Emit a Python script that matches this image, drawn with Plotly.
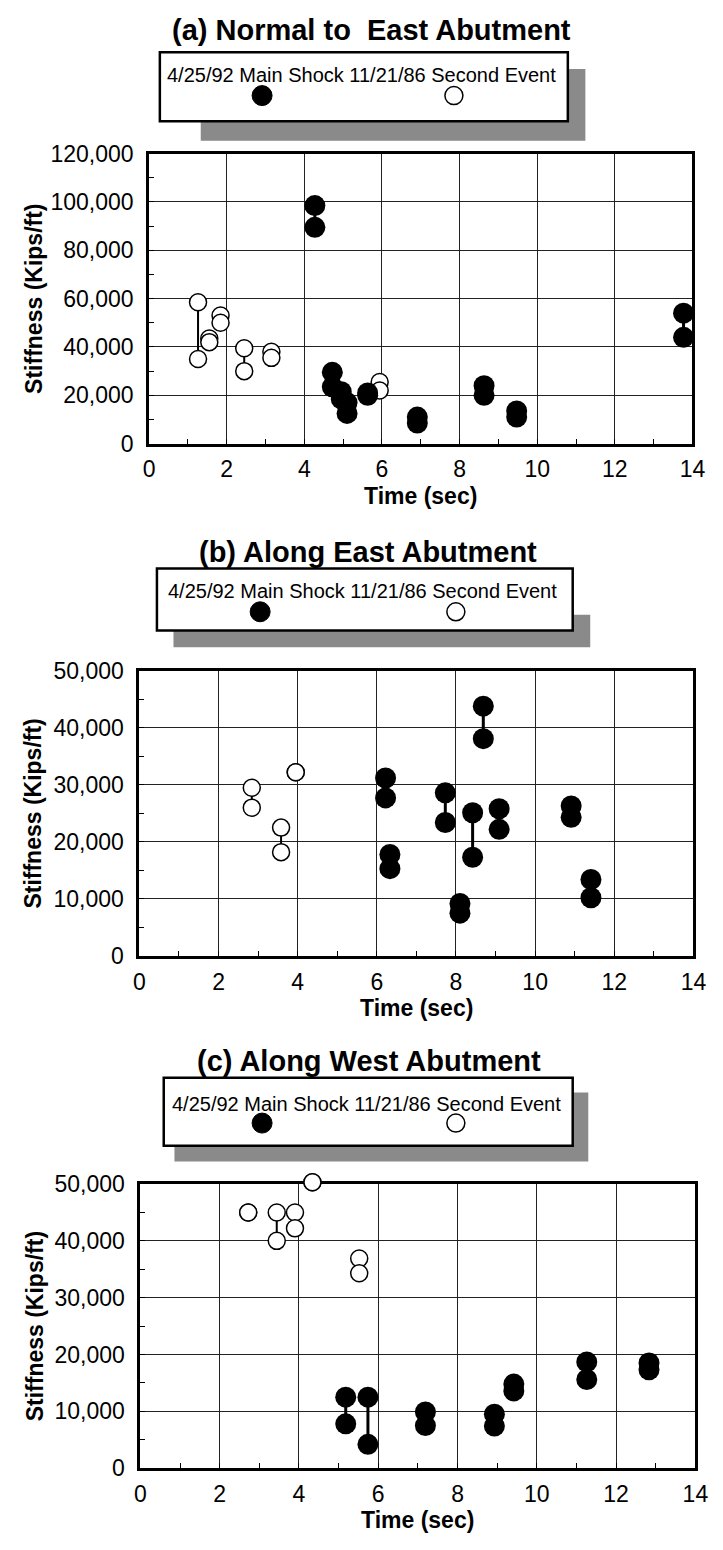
import plotly.graph_objects as go

W, H = 723, 1550

# ---------------- data ----------------
x_ticks = [0, 2, 4, 6, 8, 10, 12, 14]

# (a) Normal to East Abutment
a_main_t = [4.27, 4.72, 4.95, 5.10, 5.63, 6.91, 8.63, 9.47, 13.77]
a_main_hi = [98500, 29500, 21500, 17000, 21000, 11000, 24000, 13500, 54000]
a_main_lo = [89500, 23500, 18500, 12500, 20000, 8500, 20000, 11000, 44000]
a_sec_t = [1.26, 1.55, 1.84, 2.45, 3.15, 5.94]
a_sec_hi = [58500, 43500, 53000, 39500, 38000, 25500]
a_sec_lo = [35000, 42000, 50000, 30000, 35500, 22000]

# (b) Along East Abutment
b_main_t = [6.22, 6.33, 7.73, 8.10, 8.42, 8.69, 9.09, 10.91, 11.41]
b_main_hi = [31200, 17800, 28600, 9200, 25100, 43800, 25800, 26300, 13400]
b_main_lo = [27700, 15300, 23400, 7500, 17300, 38100, 22200, 24300, 10200]
b_sec_t = [2.84, 3.58, 3.95]
b_sec_hi = [29500, 22500, 32200]
b_sec_lo = [26000, 18200, 32200]

# (c) Along West Abutment
c_main_t = [5.18, 5.74, 7.19, 8.93, 9.42, 11.26, 12.83]
c_main_hi = [12500, 12500, 9900, 9500, 14800, 18700, 18500]
c_main_lo = [7800, 4200, 7500, 7400, 13600, 15600, 17300]
c_sec_t = [2.72, 3.44, 3.90, 4.34, 5.52]
c_sec_hi = [45000, 45000, 45000, 50300, 36900]
c_sec_lo = [45000, 40000, 42200, 50300, 34300]

titles = ["(a) Normal to\u00a0 East Abutment", "(b) Along East Abutment", "(c) Along West Abutment"]
legend_text = "4/25/92 Main Shock 11/21/86 Second Event"
x_title = "Time (sec)"
y_title = "Stiffness (Kips/ft)"
y_max = [120000, 50000, 50000]
y_dtick = [20000, 10000, 10000]

# ---------------- layout geometry (pixels) ----------------
panels = [
    dict(main=(a_main_t, a_main_hi, a_main_lo), sec=(a_sec_t, a_sec_hi, a_sec_lo),
         plot=(147, 143, 705, 438), title_xy=(375, 17), box=(158, 40, 577, 110),
         shadow=(200, 57, 595, 130), leg_y=(63, 84), leg_x=(263, 460),
         xt_y=491, yt_x=28),
    dict(main=(b_main_t, b_main_hi, b_main_lo), sec=(b_sec_t, b_sec_hi, b_sec_lo),
         plot=(137, 669, 706, 959), title_xy=(372, 548), box=(155, 565, 582, 628),
         shadow=(172, 612, 600, 645), leg_y=(588, 609), leg_x=(261, 462),
         xt_y=1012, yt_x=28),
    dict(main=(c_main_t, c_main_hi, c_main_lo), sec=(c_sec_t, c_sec_hi, c_sec_lo),
         plot=(138, 1191, 708, 1480), title_xy=(373, 1066), box=(162, 1083, 582, 1152),
         shadow=(173, 1098, 598, 1168), leg_y=(1110, 1129), leg_x=(263, 462),
         xt_y=1533, yt_x=30),
]

FONT = "Liberation Sans, Arial, Helvetica, sans-serif"
PAD = 25  # extra pixels of headroom on the (invisible) marker axes


def fx(p):
    return p / W


def fy(p):
    return 1 - p / H


fig = go.Figure()
shapes = []
annotations = []

for i, p in enumerate(panels):
    sfx = "" if i == 0 else str(i + 1)
    xa, ya = "x" + sfx, "y" + sfx
    on = str(4 + i)               # invisible twin axes carrying the marks
    ox, oy = "x" + on, "y" + on
    mt, mhi, mlo = p["main"]
    st, shi, slo = p["sec"]
    l, t_, r, b = p["plot"]

    # invisible placeholder so the framed, gridded subplot is drawn
    fig.add_trace(go.Scatter(x=[0], y=[0], mode="markers", xaxis=xa, yaxis=ya,
                             marker=dict(opacity=0), hoverinfo="skip", showlegend=False))

    # connecting lines for each pair
    for (t, hi, lo, w) in [(st, shi, slo, 2.0), (mt, mhi, mlo, 3.0)]:
        lx, ly = [], []
        for k in range(len(t)):
            lx += [t[k], t[k], None]
            ly += [hi[k], lo[k], None]
        fig.add_trace(go.Scatter(x=lx, y=ly, mode="lines", xaxis=ox, yaxis=oy,
                                 line=dict(color="black", width=w),
                                 hoverinfo="skip", cliponaxis=False))
    # second event (open circles)
    fig.add_trace(go.Scatter(x=st + st, y=shi + slo, mode="markers", xaxis=ox, yaxis=oy,
                             name="11/21/86 Second Event",
                             marker=dict(symbol="circle", size=17, color="white",
                                         line=dict(color="black", width=1.5)),
                             cliponaxis=False))
    # main shock (filled circles)
    fig.add_trace(go.Scatter(x=mt + mt, y=mhi + mlo, mode="markers", xaxis=ox, yaxis=oy,
                             name="4/25/92 Main Shock",
                             marker=dict(symbol="circle", size=21, color="black",
                                         line=dict(color="black", width=0)),
                             cliponaxis=False))

    common = dict(showline=True, linecolor="black", linewidth=3, mirror=True,
                  showgrid=True, gridcolor="#222222", gridwidth=1.2, zeroline=False,
                  ticks="inside", ticklen=5, tickcolor="black", tickwidth=1.2,
                  tickfont=dict(family=FONT, size=23, color="black"))
    unit = y_max[i] / (b - t_)
    fig.update_layout({
        "xaxis" + sfx: dict(domain=[fx(l), fx(r)], anchor=ya, range=[0, 14],
                            tickmode="array", tickvals=x_ticks,
                            ticktext=[str(v) for v in x_ticks],
                            minor=dict(dtick=1, tick0=0, ticks="inside", ticklen=5,
                                       tickcolor="black", tickwidth=1.2, showgrid=False),
                            ticklabelstandoff=3, **common),
        "yaxis" + sfx: dict(domain=[fy(b), fy(t_)], anchor=xa, range=[0, y_max[i]],
                            dtick=y_dtick[i], tick0=0, tickformat=",d",
                            minor=dict(dtick=y_dtick[i] / 2, tick0=0, ticks="inside",
                                       ticklen=5, tickcolor="black", tickwidth=1.2,
                                       showgrid=False),
                            ticklabelstandoff=8, **common),
        # invisible twin axes: same scale, extra headroom so marks on the frame show
        "xaxis" + on: dict(domain=[fx(l), fx(r)], anchor=oy, range=[0, 14],
                           visible=False, showgrid=False, zeroline=False),
        "yaxis" + on: dict(domain=[fy(b + PAD), fy(t_ - PAD)], anchor=ox,
                           range=[-PAD * unit, y_max[i] + PAD * unit],
                           visible=False, showgrid=False, zeroline=False),
    })

    # title
    tx, ty = p["title_xy"]
    annotations.append(dict(text="<b>" + titles[i] + "</b>", x=fx(tx), y=fy(ty),
                            xref="paper", yref="paper", xanchor="center", yanchor="middle",
                            showarrow=False,
                            font=dict(family=FONT, size=29, color="black")))
    # axis titles
    annotations.append(dict(text="<b>" + x_title + "</b>", x=fx((l + r) / 2), y=fy(p["xt_y"]),
                            xref="paper", yref="paper", xanchor="center", yanchor="middle",
                            showarrow=False,
                            font=dict(family=FONT, size=23, color="black")))
    annotations.append(dict(text="<b>" + y_title + "</b>", x=fx(p["yt_x"]), y=fy((t_ + b) / 2),
                            xref="paper", yref="paper", xanchor="center", yanchor="middle",
                            textangle=-90, showarrow=False,
                            font=dict(family=FONT, size=23, color="black")))

    # legend box with shadow
    sx0, sy0, sx1, sy1 = p["shadow"]
    shapes.append(dict(type="rect", xref="paper", yref="paper",
                       x0=fx(sx0), x1=fx(sx1), y0=fy(sy1), y1=fy(sy0),
                       fillcolor="#8a8a8a", line=dict(width=0), layer="above"))
    bx0, by0, bx1, by1 = p["box"]
    shapes.append(dict(type="rect", xref="paper", yref="paper",
                       x0=fx(bx0), x1=fx(bx1), y0=fy(by1), y1=fy(by0),
                       fillcolor="white", line=dict(color="black", width=2.5), layer="above"))
    ty_text, ty_mark = p["leg_y"]
    annotations.append(dict(text=legend_text, x=fx((bx0 + bx1) / 2 - 2), y=fy(ty_text),
                            xref="paper", yref="paper", xanchor="center", yanchor="middle",
                            showarrow=False,
                            font=dict(family=FONT, size=20, color="black")))
    fxm, oxm = p["leg_x"]
    shapes.append(dict(type="circle", xref="paper", yref="paper",
                       xsizemode="pixel", ysizemode="pixel",
                       xanchor=fx(fxm), yanchor=fy(ty_mark),
                       x0=-10, x1=10, y0=-10, y1=10,
                       fillcolor="black", line=dict(color="black", width=1), layer="above"))
    shapes.append(dict(type="circle", xref="paper", yref="paper",
                       xsizemode="pixel", ysizemode="pixel",
                       xanchor=fx(oxm), yanchor=fy(ty_mark),
                       x0=-9, x1=9, y0=-9, y1=9,
                       fillcolor="white", line=dict(color="black", width=1.5), layer="above"))

fig.update_layout(
    width=W, height=H,
    margin=dict(l=0, r=0, t=0, b=0, pad=0),
    paper_bgcolor="white", plot_bgcolor="rgba(0,0,0,0)",
    showlegend=False,
    shapes=shapes, annotations=annotations,
    font=dict(family=FONT, color="black"),
)

fig.write_html("out.html")
